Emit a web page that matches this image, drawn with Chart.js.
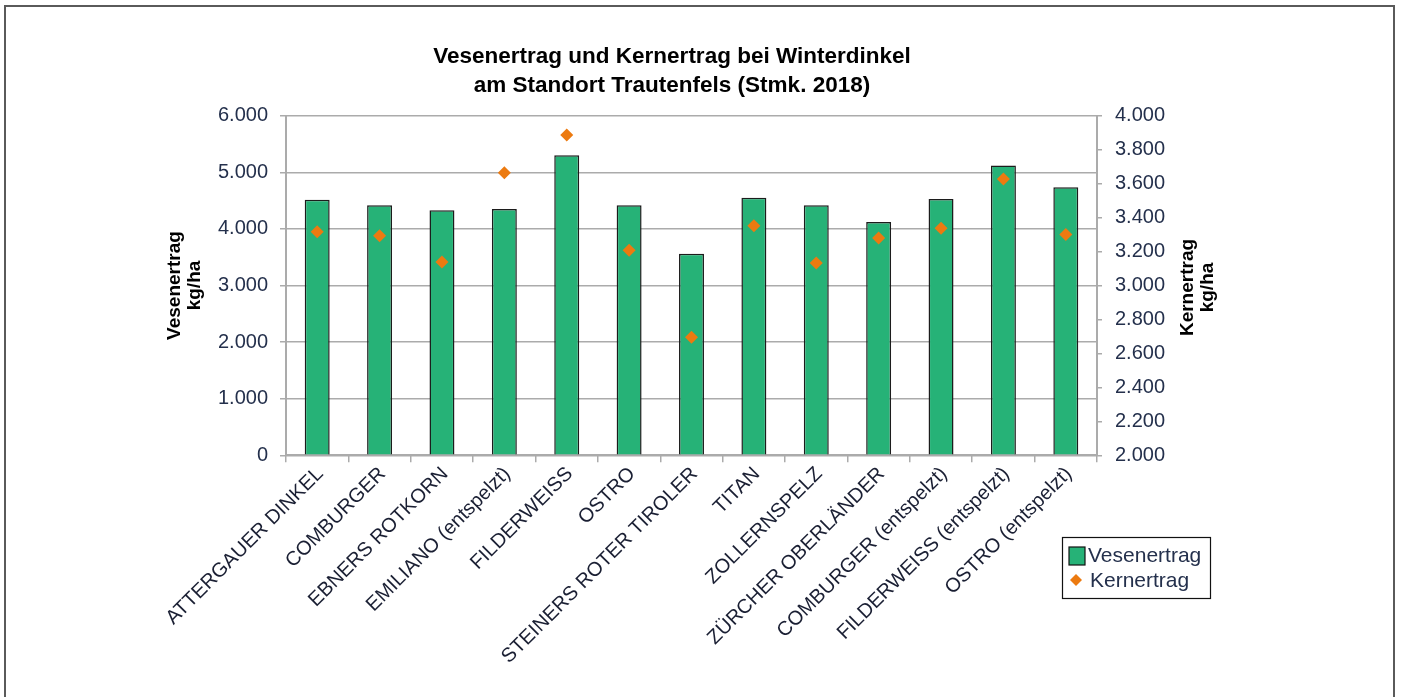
<!DOCTYPE html>
<html>
<head>
<meta charset="utf-8">
<script src="https://cdn.jsdelivr.net/npm/chart.js@4.4.1/dist/chart.umd.min.js"></script>
<style>
  html, body { margin: 0; padding: 0; background: #fff; overflow: hidden; }
  #wrap { position: relative; width: 1402px; height: 697px; }
  #frame { position: absolute; left: 4px; top: 5px; width: 1391px; height: 730px;
           border: 2px solid #5a5a5a; box-sizing: border-box; pointer-events: none; }
  canvas { position: absolute; left: 0; top: 0; }
</style>
</head>
<body>
<div id="wrap">
  <canvas id="c"></canvas>
  <div id="frame"></div>
</div>
<script>
// ---- data ----
const categories = [
  'ATTERGAUER DINKEL', 'COMBURGER', 'EBNERS ROTKORN', 'EMILIANO (entspelzt)',
  'FILDERWEISS', 'OSTRO', 'STEINERS ROTER TIROLER', 'TITAN', 'ZOLLERNSPELZ',
  'ZÜRCHER OBERLÄNDER', 'COMBURGER (entspelzt)', 'FILDERWEISS (entspelzt)', 'OSTRO (entspelzt)'
];
const vesenertrag = [4515, 4420, 4330, 4350, 5300, 4420, 3560, 4550, 4420, 4120, 4530, 5120, 4735];
const kernertrag  = [3317, 3293, 3138, 3664, 3886, 3207, 2695, 3352, 3133, 3280, 3337, 3627, 3301];
const titleLines = ['Vesenertrag und Kernertrag bei Winterdinkel', 'am Standort Trautenfels (Stmk. 2018)'];
const leftAxisTitle = ['Vesenertrag', 'kg/ha'];
const rightAxisTitle = ['Kernertrag', 'kg/ha'];
const leftTicks = { min: 0, max: 6000, step: 1000 };
const rightTicks = { min: 2000, max: 4000, step: 200 };
const seriesLabels = ['Vesenertrag', 'Kernertrag'];

const GREEN = '#26b277';
const ORANGE = '#ec7a10';
const TICKCOL = '#24304c';
const GRID = '#ababab';
const FONT = "'Liberation Sans', Arial, sans-serif";

function fmt(v) {
  return Math.round(v).toString().replace(/\B(?=(\d{3})+(?!\d))/g, '.');
}

const extras = {
  id: 'extras',
  afterDraw(chart) {
    const ctx = chart.ctx;
    const ca = chart.chartArea;
    ctx.save();
    // right axis title (reads bottom-to-top like the left one)
    ctx.font = 'bold 19px ' + FONT;
    ctx.fillStyle = '#000';
    ctx.textAlign = 'center';
    ctx.textBaseline = 'middle';
    const cy = (ca.top + ca.bottom) / 2 + 2;
    const xs = [1187.5, 1207.5];
    rightAxisTitle.forEach((t, i) => {
      ctx.save();
      ctx.translate(xs[i], cy);
      ctx.rotate(-Math.PI / 2);
      ctx.fillText(t, 0, 0);
      ctx.restore();
    });
    // legend
    const ds = chart.data.datasets;
    ctx.lineWidth = 1.2;
    ctx.strokeStyle = '#111';
    ctx.strokeRect(1062.5, 537.5, 148, 61);
    // bar entry
    ctx.fillStyle = ds[0].backgroundColor;
    ctx.fillRect(1069, 547, 16, 18);
    ctx.strokeRect(1069, 547, 16, 18);
    // point entry
    ctx.fillStyle = ds[1].backgroundColor;
    ctx.beginPath();
    ctx.moveTo(1076, 574); ctx.lineTo(1082, 580); ctx.lineTo(1076, 586); ctx.lineTo(1070, 580);
    ctx.closePath(); ctx.fill();
    ctx.font = '21px ' + FONT;
    ctx.fillStyle = TICKCOL;
    ctx.textAlign = 'left';
    ctx.fillText(ds[0].label, 1088, 556);
    ctx.fillText(ds[1].label, 1090, 581);
    ctx.restore();
  }
};

new Chart(document.getElementById('c'), {
  data: {
    labels: categories,
    datasets: [
      {
        type: 'bar', label: seriesLabels[0], data: vesenertrag, yAxisID: 'y',
        backgroundColor: GREEN, borderColor: '#1c1c1c', borderWidth: 1.5,
        barPercentage: 0.4, categoryPercentage: 1.0, order: 2
      },
      {
        type: 'line', label: seriesLabels[1], data: kernertrag, yAxisID: 'y1',
        showLine: false, pointStyle: 'rectRot', pointRadius: 6.5, pointHoverRadius: 6.5,
        backgroundColor: ORANGE, borderColor: ORANGE, pointBorderWidth: 0, order: 1
      }
    ]
  },
  options: {
    responsive: true, maintainAspectRatio: false, animation: false,
    layout: { padding: { left: 20, right: 78, top: 0, bottom: 0 } },
    plugins: {
      legend: { display: false },
      tooltip: { enabled: false },
      title: {
        display: true, text: titleLines, color: '#000',
        font: { family: FONT, size: 22.5, weight: 'bold', lineHeight: 1.26 },
        padding: { top: 43, bottom: 16 }
      }
    },
    scales: {
      x: {
        type: 'category', offset: true,
        grid: { display: true, drawOnChartArea: false, offset: true, tickLength: 7, color: GRID, lineWidth: 1.5 },
        border: { display: true, color: GRID, width: 2 },
        ticks: {
          autoSkip: false, maxRotation: 45, minRotation: 45, padding: 0, labelOffset: 3,
          color: '#1a1f33', font: { family: FONT, size: 20 }
        },
        afterFit(s) { s.height = 241.7; }
      },
      y: {
        position: 'left', min: leftTicks.min, max: leftTicks.max,
        grid: { color: GRID, lineWidth: 1.5, tickLength: 6 },
        border: { display: true, color: GRID, width: 2 },
        ticks: { stepSize: leftTicks.step, padding: 12, color: TICKCOL,
                 font: { family: FONT, size: 20 }, callback: v => fmt(v) },
        title: { display: true, text: leftAxisTitle, color: '#000',
                 font: { family: FONT, size: 19, weight: 'bold', lineHeight: 1.05 },
                 padding: { top: 145, bottom: 0 } },
        afterFit(s) { s.width = 266; }
      },
      y1: {
        position: 'right', min: rightTicks.min, max: rightTicks.max,
        grid: { drawOnChartArea: false, color: GRID, lineWidth: 1.5, tickLength: 5 },
        border: { display: true, color: GRID, width: 2 },
        ticks: { stepSize: rightTicks.step, padding: 13, color: TICKCOL,
                 font: { family: FONT, size: 20 }, callback: v => fmt(v) },
        afterFit(s) { s.width = 227; }
      }
    }
  },
  plugins: [extras]
});
</script>
</body>
</html>
